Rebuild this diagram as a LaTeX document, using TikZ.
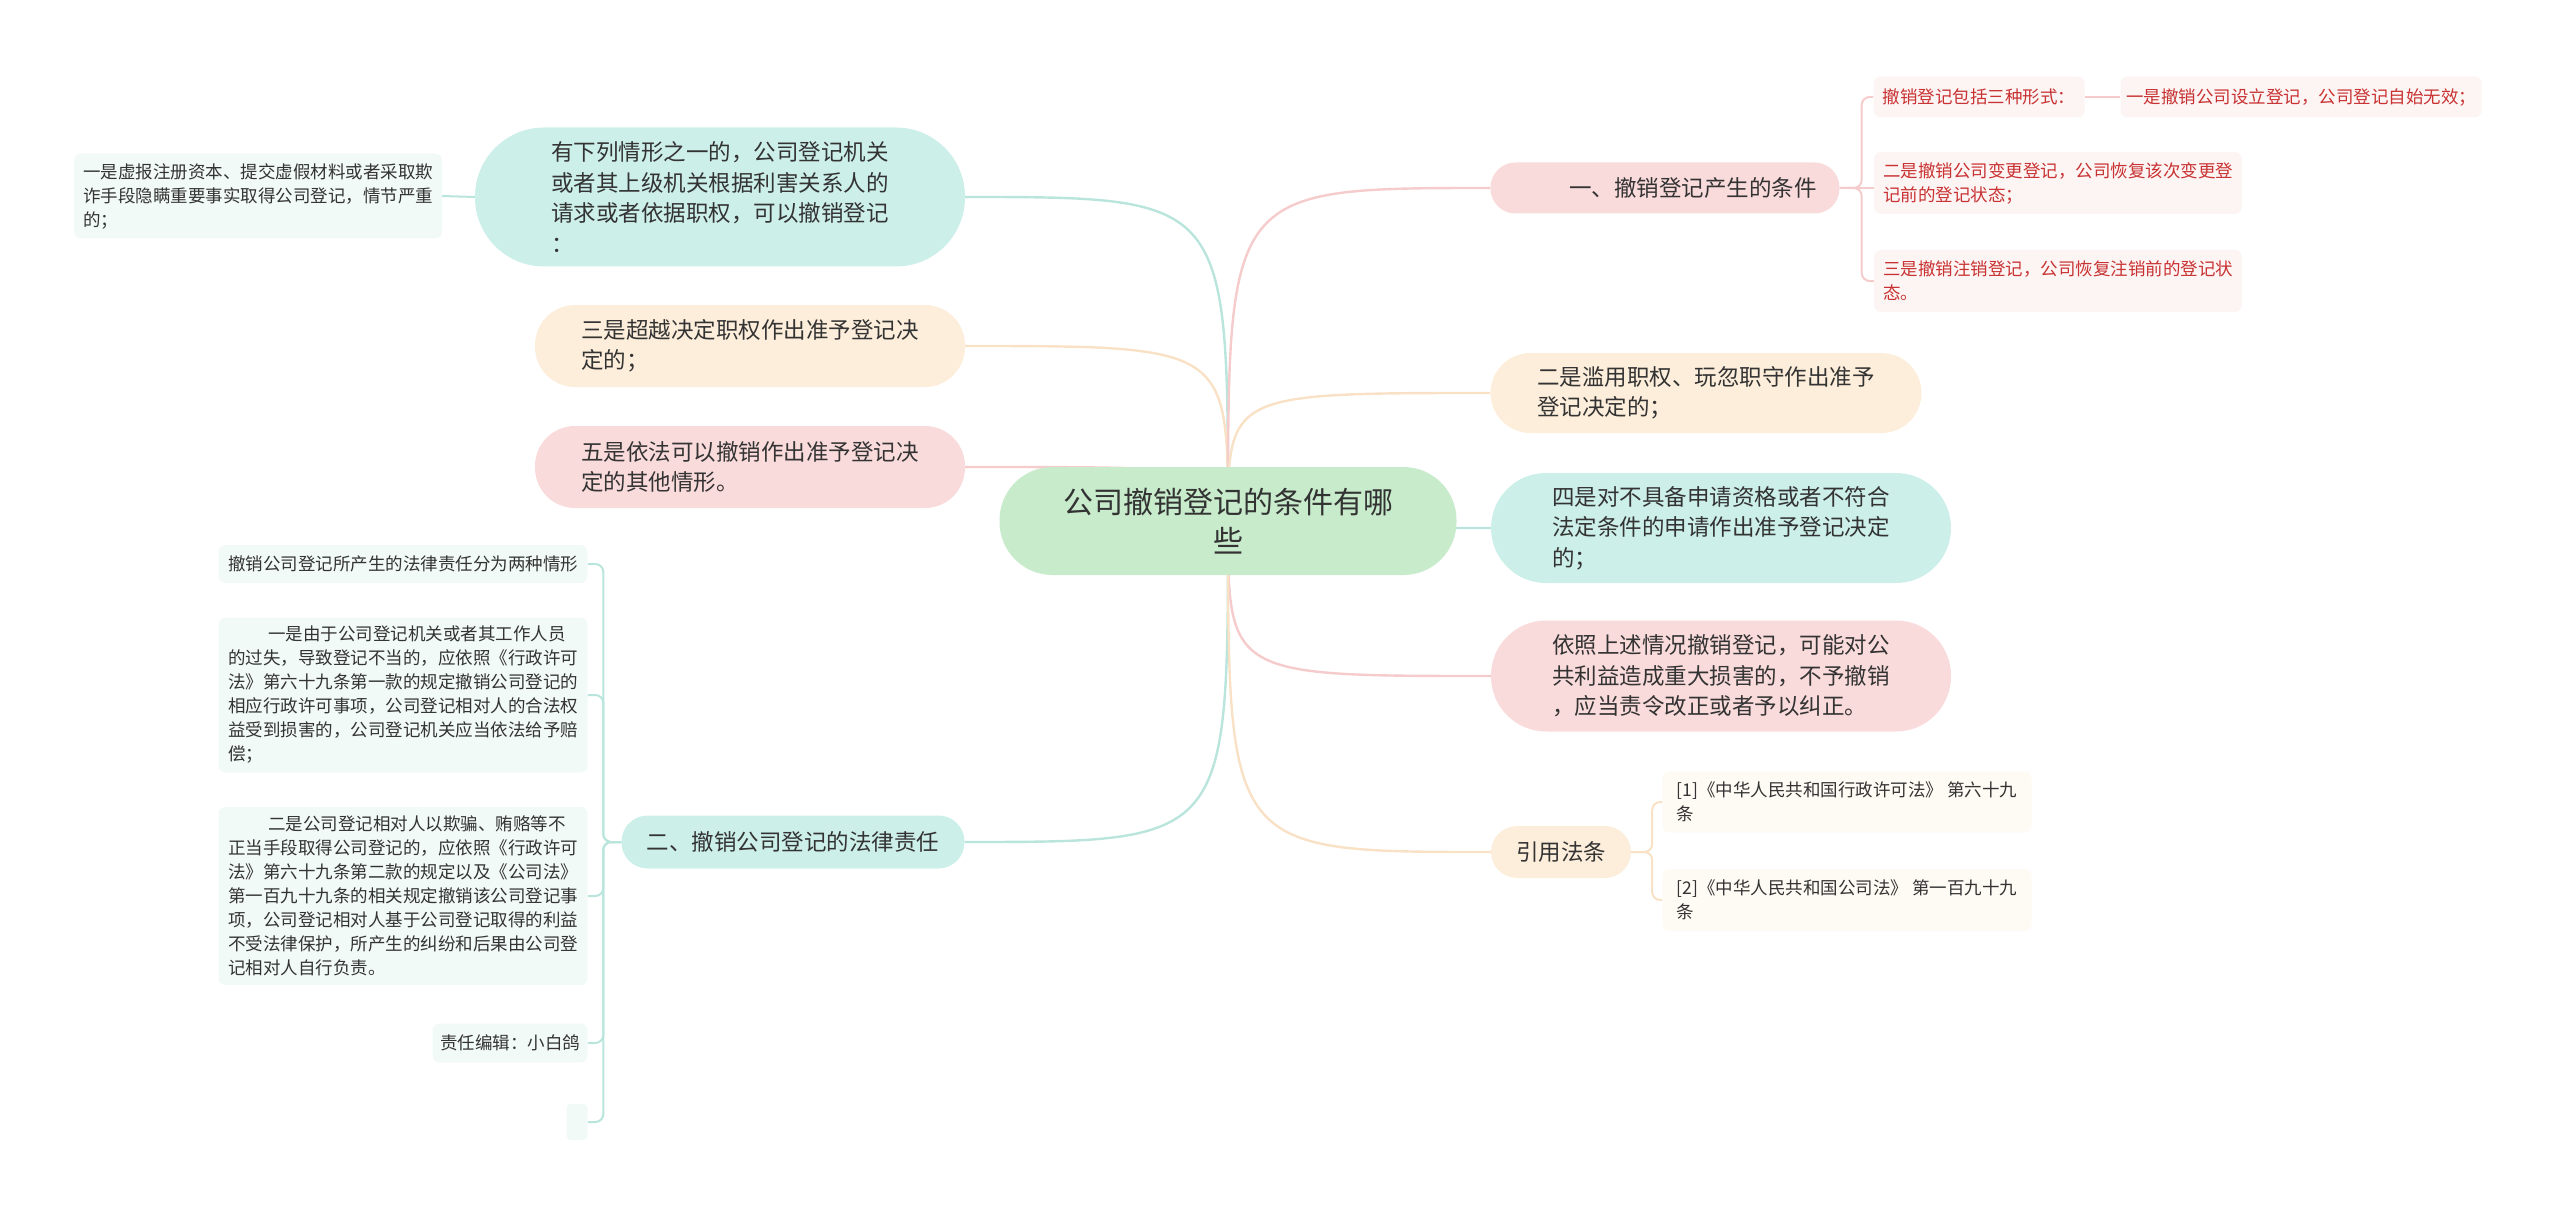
\documentclass[tikz,border=0pt]{standalone}
\usepackage{fontspec}
\setmainfont{Noto Sans CJK SC}
\usetikzlibrary{backgrounds}
\definecolor{txt}{HTML}{333333}
\definecolor{red1}{HTML}{C83232}
\definecolor{cgreen}{HTML}{C7EBCB}
\definecolor{cteal}{HTML}{CDEFE9}
\definecolor{corange}{HTML}{FDEEDB}
\definecolor{cpink}{HTML}{FADBDB}
\definecolor{lteal}{HTML}{F2FAF8}
\definecolor{lpink}{HTML}{FDF4F4}
\definecolor{lcream}{HTML}{FEFAF4}
\definecolor{tealline}{HTML}{B9E5DC}
\definecolor{pinkline}{HTML}{F5CBCC}
\definecolor{orangeline}{HTML}{F9E1C6}
\tikzset{
  base/.style={inner sep=0pt, text=txt, align=left},
  big/.style={base, font=\fontsize{22.5}{30.5}\selectfont},
  small/.style={base, font=\fontsize{17.5}{24}\selectfont, rounded corners=7pt},
  conn/.style={line width=2.4pt},
  brk/.style={line width=2pt, rounded corners=8pt},
}
\begin{document}
\begin{tikzpicture}[x=1pt,y=-1pt]
\useasboundingbox (0,0) rectangle (2560,1217);
% centre
\node[base, fill=cgreen, rounded corners=53pt, minimum width=457pt, minimum height=108pt,
  font=\fontsize{30}{39}\selectfont, align=center] (ctr) at (1228,521) {公司撤销登记的条件有哪\\些};
% left main nodes
\node[big, fill=cteal, rounded corners=69pt, minimum width=490pt, minimum height=139pt] (a) at (720,197)
  {有下列情形之一的，公司登记机关\\或者其上级机关根据利害关系人的\\请求或者依据职权，可以撤销登记\\：};
\node[big, fill=corange, rounded corners=40pt, minimum width=430pt, minimum height=82pt] (b) at (750,346)
  {三是超越决定职权作出准予登记决\\定的；};
\node[big, fill=cpink, rounded corners=40pt, minimum width=430pt, minimum height=82pt] (c) at (750,467)
  {五是依法可以撤销作出准予登记决\\定的其他情形。};
\node[big, fill=cteal, rounded corners=26pt, minimum width=343pt, minimum height=53pt] (d) at (793,842)
  {二、撤销公司登记的法律责任};
% left leaves
\node[small, fill=lteal, minimum width=368pt, minimum height=85pt] (la) at (258,196)
  {一是虚报注册资本、提交虚假材料或者采取欺\\诈手段隐瞒重要事实取得公司登记，情节严重\\的；};
\node[small, fill=lteal, minimum width=369pt, minimum height=38pt] (d1) at (403,564)
  {撤销公司登记所产生的法律责任分为两种情形};
\node[small, fill=lteal, minimum width=369pt, minimum height=155pt] (d2) at (403,695)
  {\hspace*{40pt}一是由于公司登记机关或者其工作人员\\的过失，导致登记不当的，应依照《行政许可\\法》第六十九条第一款的规定撤销公司登记的\\相应行政许可事项，公司登记相对人的合法权\\益受到损害的，公司登记机关应当依法给予赔\\偿；};
\node[small, fill=lteal, minimum width=369pt, minimum height=178pt] (d3) at (403,896)
  {\hspace*{40pt}二是公司登记相对人以欺骗、贿赂等不\\正当手段取得公司登记的，应依照《行政许可\\法》第六十九条第二款的规定以及《公司法》\\第一百九十九条的相关规定撤销该公司登记事\\项，公司登记相对人基于公司登记取得的利益\\不受法律保护，所产生的纠纷和后果由公司登\\记相对人自行负责。};
\node[small, fill=lteal, minimum width=155pt, minimum height=39pt] (d4) at (510,1043)
  {责任编辑：小白鸽};
\node[small, fill=lteal, rounded corners=4pt, minimum width=21pt, minimum height=36pt] (d5) at (577,1122) {};
% right main nodes
\node[big, fill=cpink, rounded corners=25pt, minimum width=349pt, minimum height=51pt] (e) at (1665,188)
  {\hspace*{56pt}一、撤销登记产生的条件};
\node[big, fill=corange, rounded corners=40pt, minimum width=431pt, minimum height=80pt] (f) at (1706,393)
  {二是滥用职权、玩忽职守作出准予\\登记决定的；};
\node[big, fill=cteal, rounded corners=55pt, minimum width=460pt, minimum height=110pt] (g) at (1721,528)
  {四是对不具备申请资格或者不符合\\法定条件的申请作出准予登记决定\\的；};
\node[big, fill=cpink, rounded corners=55pt, minimum width=460pt, minimum height=111pt] (h) at (1721,676)
  {依照上述情况撤销登记，可能对公\\共利益造成重大损害的，不予撤销\\，应当责令改正或者予以纠正。};
\node[big, fill=corange, rounded corners=26pt, minimum width=140pt, minimum height=52pt] (i) at (1561,852)
  {引用法条};
% right leaves
\node[small, fill=lpink, text=red1, minimum width=211pt, minimum height=41pt] (e1) at (1979,97)
  {撤销登记包括三种形式：};
\node[small, fill=lpink, text=red1, minimum width=361pt, minimum height=41pt] (e11) at (2301,97)
  {一是撤销公司设立登记，公司登记自始无效；};
\node[small, fill=lpink, text=red1, minimum width=368pt, minimum height=62pt] (e2) at (2058,183)
  {二是撤销公司变更登记，公司恢复该次变更登\\记前的登记状态；};
\node[small, fill=lpink, text=red1, minimum width=368pt, minimum height=62pt] (e3) at (2058,281)
  {三是撤销注销登记，公司恢复注销前的登记状\\态。};
\node[small, fill=lcream, minimum width=369pt, minimum height=61pt] (i1) at (1847,802)
  {[1]《中华人民共和国行政许可法》 第六十九\\条};
\node[small, fill=lcream, minimum width=369pt, minimum height=62pt] (i2) at (1847,900)
  {[2]《中华人民共和国公司法》 第一百九十九\\条};
% connectors
\begin{scope}[on background layer]
\draw[conn, tealline] (ctr.center) .. controls (ctr.center |- a.east) .. (a.east);
\draw[conn, orangeline] (ctr.center) .. controls (ctr.center |- b.east) .. (b.east);
\draw[conn, pinkline] (ctr.center) .. controls (ctr.center |- c.east) .. (c.east);
\draw[conn, tealline] (ctr.center) .. controls (ctr.center |- d.east) .. (d.east);
\draw[conn, pinkline] (ctr.center) .. controls (ctr.center |- e.west) .. (e.west);
\draw[conn, orangeline] (ctr.center) .. controls (ctr.center |- f.west) .. (f.west);
\draw[conn, tealline] (ctr.center) .. controls (ctr.center |- g.west) .. (g.west);
\draw[conn, pinkline] (ctr.center) .. controls (ctr.center |- h.west) .. (h.west);
\draw[conn, orangeline] (ctr.center) .. controls (ctr.center |- i.west) .. (i.west);
% sub branches
\draw[brk, tealline] (a.west) -- (la.east);
\draw[brk, tealline] (d.west) -- ++(-18,0) |- (d1.east);
\draw[brk, tealline] (d.west) -- ++(-18,0) |- (d2.east);
\draw[brk, tealline] (d.west) -- ++(-18,0) |- (d3.east);
\draw[brk, tealline] (d.west) -- ++(-18,0) |- (d4.east);
\draw[brk, tealline] (d.west) -- ++(-18,0) |- (d5.east);
\draw[brk, pinkline] (e.east) -- ++(22,0) |- (e1.west);
\draw[brk, pinkline] (e.east) -- (e.east -| e2.west);
\draw[brk, pinkline] (e.east) -- ++(22,0) |- (e3.west);
\draw[brk, pinkline] (e1.east) -- (e11.west);
\draw[brk, orangeline] (i.east) -- ++(21,0) |- (i1.west);
\draw[brk, orangeline] (i.east) -- ++(21,0) |- (i2.west);
\end{scope}
\end{tikzpicture}
\end{document}
